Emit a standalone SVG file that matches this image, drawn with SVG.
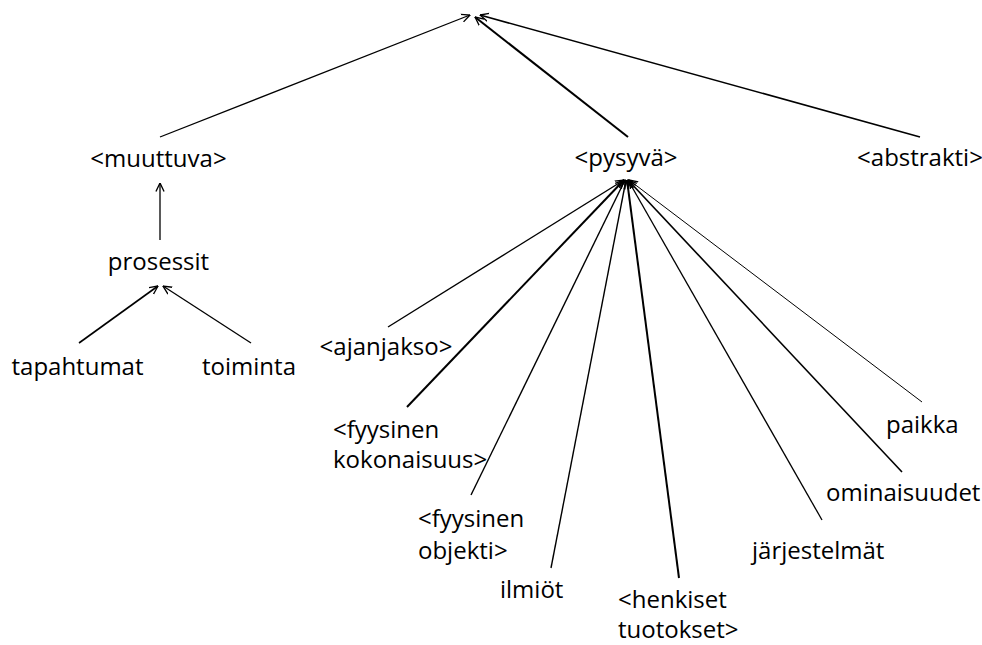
<svg xmlns="http://www.w3.org/2000/svg" width="982" height="645" viewBox="0 0 982 645">
<style>
text{font-family:"Open Sans","Noto Sans","Liberation Sans",sans-serif;font-size:24px;fill:#000}
.c{text-anchor:middle}
line{stroke:#000;fill:none}
</style>
<defs>
<marker id="arr" viewBox="0 0 10 10" refX="9.5" refY="5" markerWidth="9" markerHeight="10" markerUnits="userSpaceOnUse" orient="auto">
<path d="M0,0.5 L9.5,5 L0,9.5" fill="none" stroke="#000" stroke-width="1.5"/>
</marker>
</defs>
<rect width="982" height="645" fill="#fff"/>
<g id="connectors">
<line x1="160" y1="137" x2="470" y2="15" stroke-width="1.3" marker-end="url(#arr)"/>
<line x1="628" y1="137" x2="475" y2="17" stroke-width="2" marker-end="url(#arr)"/>
<line x1="920" y1="137" x2="480" y2="15" stroke-width="1.6" marker-end="url(#arr)"/>
<line x1="160" y1="240" x2="160" y2="183" stroke-width="1.3" marker-end="url(#arr)"/>
<line x1="79" y1="343" x2="158" y2="286" stroke-width="1.6" marker-end="url(#arr)"/>
<line x1="251" y1="343" x2="163" y2="286" stroke-width="1.3" marker-end="url(#arr)"/>
<line x1="388" y1="327" x2="624" y2="180" stroke-width="1.4" marker-end="url(#arr)"/>
<line x1="407" y1="407" x2="624" y2="180" stroke-width="2" marker-end="url(#arr)"/>
<line x1="471" y1="495" x2="625" y2="180" stroke-width="1.4" marker-end="url(#arr)"/>
<line x1="551" y1="568" x2="626" y2="180" stroke-width="1.4" marker-end="url(#arr)"/>
<line x1="679" y1="578" x2="627" y2="180" stroke-width="2" marker-end="url(#arr)"/>
<line x1="822" y1="520" x2="628" y2="180" stroke-width="1.3" marker-end="url(#arr)"/>
<line x1="902" y1="472" x2="628" y2="180" stroke-width="1.6" marker-end="url(#arr)"/>
<line x1="922" y1="402" x2="629" y2="180" stroke-width="1" marker-end="url(#arr)"/>
</g>
<g id="muuttuva"><text class="c" x="158.5" y="167">&lt;muuttuva&gt;</text></g>
<g id="pysyva"><text class="c" x="626" y="166">&lt;pysyvä&gt;</text></g>
<g id="abstrakti"><text class="c" x="920" y="166">&lt;abstrakti&gt;</text></g>
<g id="prosessit"><text class="c" x="158.5" y="270">prosessit</text></g>
<g id="tapahtumat"><text class="c" x="77.5" y="375">tapahtumat</text></g>
<g id="toiminta"><text class="c" x="249" y="375">toiminta</text></g>
<g id="ajanjakso"><text class="c" x="386" y="355">&lt;ajanjakso&gt;</text></g>
<g id="kokonaisuus"><text x="333" y="438">&lt;fyysinen</text><text x="333" y="468">kokonaisuus&gt;</text></g>
<g id="objekti"><text x="418" y="527">&lt;fyysinen</text><text x="418" y="559">objekti&gt;</text></g>
<g id="ilmiot"><text x="500" y="598">ilmiöt</text></g>
<g id="henkiset"><text x="618" y="608">&lt;henkiset</text><text x="618" y="638">tuotokset&gt;</text></g>
<g id="jarjestelmat"><text x="752" y="559">järjestelmät</text></g>
<g id="ominaisuudet"><text x="826" y="501">ominaisuudet</text></g>
<g id="paikka"><text x="886" y="433">paikka</text></g>
</svg>
